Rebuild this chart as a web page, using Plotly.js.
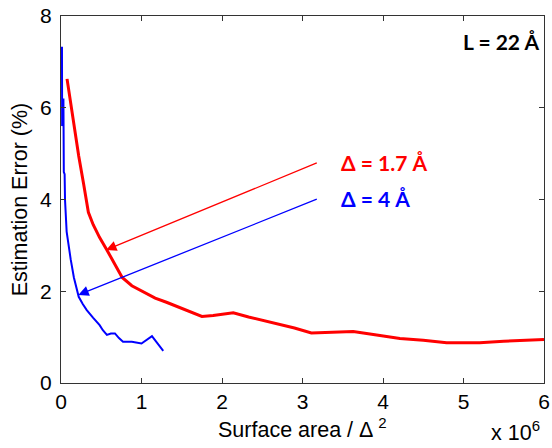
<!DOCTYPE html>
<html>
<head>
<meta charset="utf-8">
<script src="https://cdn.plot.ly/plotly-3.0.1.min.js"></script>
<style>html,body{margin:0;padding:0;background:#fff;}#chart{width:552px;height:448px;}</style>
</head>
<body>
<div id="chart"></div>
<script>
// Surface area (x 10^6) and estimation error (%) for the two grid spacings
const redX = [0.075, 0.15, 0.22, 0.28, 0.34, 0.40, 0.48, 0.57, 0.66, 0.76, 0.88, 1.02, 1.17, 1.31, 1.45, 1.56, 1.75, 1.89, 2.00, 2.14, 2.33, 2.60, 2.90, 3.11, 3.30, 3.63, 3.90, 4.21, 4.50, 4.79, 5.00, 5.20, 5.50, 5.80, 6.00];
const redY = [6.63, 5.75, 4.95, 4.35, 3.72, 3.45, 3.17, 2.90, 2.60, 2.30, 2.12, 1.99, 1.85, 1.76, 1.66, 1.59, 1.45, 1.47, 1.50, 1.53, 1.44, 1.33, 1.20, 1.09, 1.10, 1.12, 1.05, 0.97, 0.93, 0.88, 0.88, 0.88, 0.91, 0.93, 0.95];
const blueX = [0.012, 0.014, 0.030, 0.035, 0.045, 0.050, 0.070, 0.090, 0.120, 0.160, 0.220, 0.270, 0.320, 0.400, 0.480, 0.520, 0.570, 0.620, 0.670, 0.720, 0.770, 0.880, 1.000, 1.130, 1.270];
const blueY = [7.33, 5.60, 6.20, 4.60, 4.55, 3.99, 3.30, 3.04, 2.70, 2.30, 1.88, 1.72, 1.59, 1.42, 1.26, 1.15, 1.05, 1.08, 1.08, 0.98, 0.90, 0.90, 0.86, 1.02, 0.70];
const xTicks = [0, 1, 2, 3, 4, 5, 6];
const yTicks = [0, 2, 4, 6, 8];
const labelRed = "Δ = 1.7 Å";
const labelBlue = "Δ = 4 Å";
const labelL = "L = 22 Å";
// arrow tip and tail positions (data units)
const redArrow = {tip: [0.56, 2.90], tail: [3.196, 4.81]};
const blueArrow = {tip: [0.215, 1.92], tail: [3.196, 4.02]};

const tickFont = {family: "Liberation Sans, Arial, sans-serif", size: 21, color: "#000"};
const titleFont = {family: "Liberation Sans, Arial, sans-serif", size: 21.5, color: "#000"};
const boldFont = {family: "Lato, Carlito, sans-serif", size: 21, weight: "bold"};

const traces = [
  {x: redX, y: redY, type: "scatter", mode: "lines", line: {color: "#ff0000", width: 3}, showlegend: false, hoverinfo: "skip"},
  {x: blueX, y: blueY, type: "scatter", mode: "lines", line: {color: "#0000ff", width: 2}, showlegend: false, hoverinfo: "skip"}
];

const layout = {
  width: 552, height: 448,
  margin: {l: 61, r: 8, t: 16, b: 65, pad: 0},
  paper_bgcolor: "#fff", plot_bgcolor: "#fff",
  showlegend: false,
  xaxis: {
    range: [0, 6], tickvals: xTicks, ticktext: xTicks.map(String), automargin: false,
    ticks: "inside", ticklen: 5, tickcolor: "#333", mirror: "ticks",
    showline: true, linecolor: "#333", linewidth: 1, showgrid: false, zeroline: false,
    tickfont: tickFont, ticklabelstandoff: 0
  },
  yaxis: {
    range: [0, 8], tickvals: yTicks, ticktext: yTicks.map(String), automargin: false,
    ticks: "inside", ticklen: 5, tickcolor: "#333", mirror: "ticks",
    showline: true, linecolor: "#333", linewidth: 1, showgrid: false, zeroline: false,
    tickfont: tickFont, ticklabelstandoff: 4,
    title: {text: "Estimation Error (%)", font: titleFont, standoff: 6}
  },
  annotations: [
    {xref: "paper", yref: "paper", x: 0.5, y: (383 - 428) / 367, xanchor: "center", yanchor: "middle",
     text: "Surface area / Δ <sup>2</sup>", showarrow: false, font: titleFont},
    {xref: "paper", yref: "paper", x: (515 - 61) / 483, y: (383 - 447) / 367, xanchor: "center", yanchor: "bottom",
     text: "x 10<sup>6</sup>", showarrow: false, font: titleFont},
    {xref: "paper", yref: "paper", x: (541 - 61) / 483, y: (383 - 41) / 367, xanchor: "right", yanchor: "middle",
     text: labelL, showarrow: false, font: Object.assign({}, boldFont, {color: "#000"})},
    {xref: "paper", yref: "paper", x: (339 - 61) / 483, y: (383 - 162) / 367, xanchor: "left", yanchor: "middle",
     text: labelRed, showarrow: false, font: Object.assign({}, boldFont, {color: "#ff0000"})},
    {xref: "paper", yref: "paper", x: (339 - 61) / 483, y: (383 - 198) / 367, xanchor: "left", yanchor: "middle",
     text: labelBlue, showarrow: false, font: Object.assign({}, boldFont, {color: "#0000ff"})},
    {x: redArrow.tip[0], y: redArrow.tip[1], ax: redArrow.tail[0], ay: redArrow.tail[1], axref: "x", ayref: "y",
     xref: "x", yref: "y", text: "", showarrow: true, arrowhead: 2, arrowsize: 1.6, arrowwidth: 1.3, arrowcolor: "#ff0000", standoff: 0},
    {x: blueArrow.tip[0], y: blueArrow.tip[1], ax: blueArrow.tail[0], ay: blueArrow.tail[1], axref: "x", ayref: "y",
     xref: "x", yref: "y", text: "", showarrow: true, arrowhead: 2, arrowsize: 1.6, arrowwidth: 1.3, arrowcolor: "#0000ff", standoff: 0}
  ]
};

Plotly.newPlot("chart", traces, layout, {staticPlot: true, displayModeBar: false});
</script>
</body>
</html>
